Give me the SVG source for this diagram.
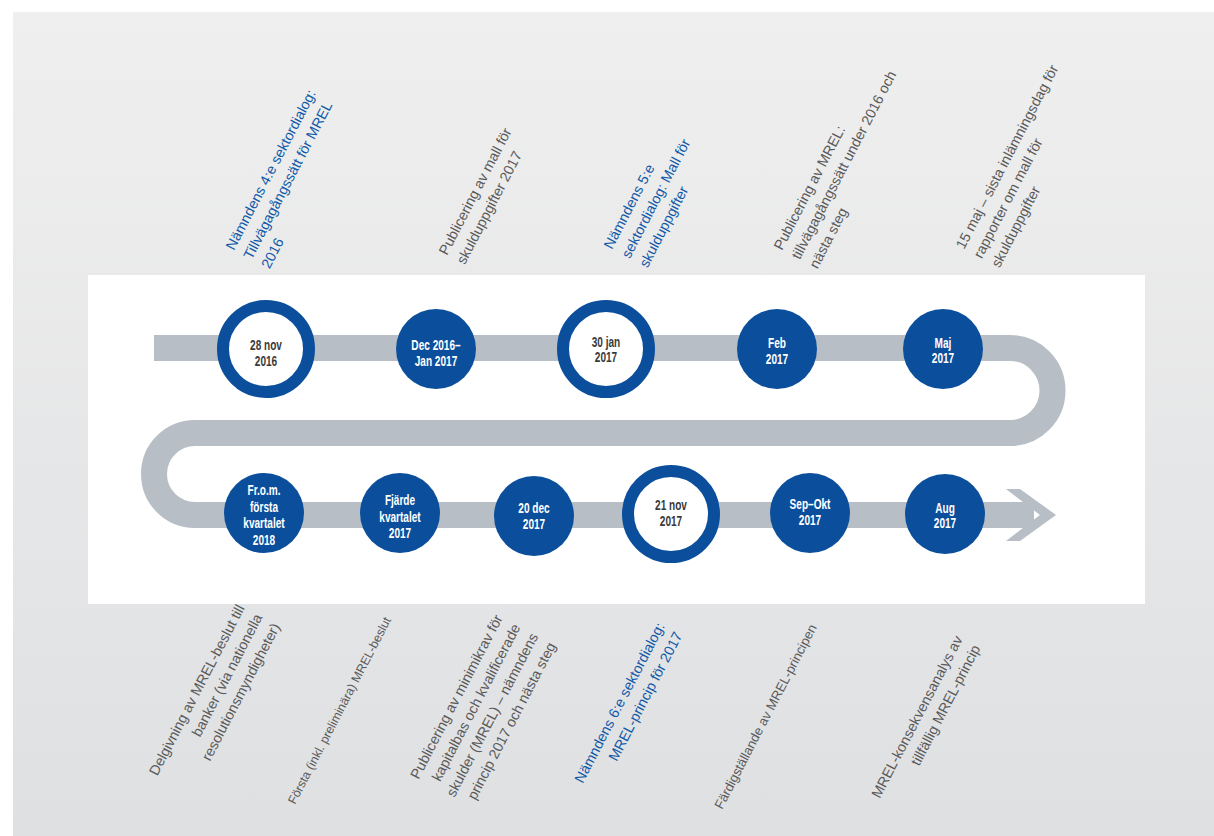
<svg xmlns="http://www.w3.org/2000/svg" width="1214" height="836" viewBox="0 0 1214 836">
<defs>
<linearGradient id="bg" x1="0" y1="0" x2="0" y2="1">
<stop offset="0" stop-color="#efefef"/>
<stop offset="1" stop-color="#dfe0e2"/>
</linearGradient>
<style>
.band{fill:none;stroke:#b7bec5;stroke-width:26}
.ring{fill:#fff;stroke:#0b4f9c;stroke-width:12}
.dot{fill:#0b4f9c}
.dt{font-family:"Liberation Sans Narrow","Liberation Sans",Arial,sans-serif;font-weight:bold;font-size:14px;text-anchor:middle}
.w{fill:#fff}
.k{fill:#3a3a3a}
.lbl{font-family:"Liberation Sans",Arial,sans-serif;font-size:14.3px}
.g{fill:#5a5a5a}
.b{fill:#1059a8}
.e{text-anchor:end}
</style>
</defs>
<rect x="13" y="12" width="1201" height="824" fill="url(#bg)"/>
<rect x="88" y="275" width="1057" height="329" fill="#fff"/>

<g id="connectors">
<path class="band" d="M154,348 H1010 A42.5,42.5 0 0 1 1010,433 H195 A41,41 0 0 0 195,515 H1034"/>
<polygon points="1006,489 1020,489 1056,515 1020,541 1006,541 1040,515" fill="#b7bec5"/>
</g>

<g id="n1"><circle class="ring" cx="266" cy="349" r="43"/>
<g transform="translate(266,0) scale(0.72,1)"><text class="dt k"><tspan x="0" y="350">28 nov</tspan><tspan x="0" y="366">2016</tspan></text></g></g>
<g id="n2"><circle class="dot" cx="436" cy="349" r="40"/>
<g transform="translate(436,0) scale(0.72,1)"><text class="dt w"><tspan x="0" y="350">Dec 2016–</tspan><tspan x="0" y="366">Jan 2017</tspan></text></g></g>
<g id="n3"><circle class="ring" cx="606" cy="349" r="43"/>
<g transform="translate(606,0) scale(0.72,1)"><text class="dt k"><tspan x="0" y="347">30 jan</tspan><tspan x="0" y="362">2017</tspan></text></g></g>
<g id="n4"><circle class="dot" cx="777" cy="349" r="40"/>
<g transform="translate(777,0) scale(0.72,1)"><text class="dt w"><tspan x="0" y="348">Feb</tspan><tspan x="0" y="364">2017</tspan></text></g></g>
<g id="n5"><circle class="dot" cx="943" cy="349" r="40"/>
<g transform="translate(943,0) scale(0.72,1)"><text class="dt w"><tspan x="0" y="348">Maj</tspan><tspan x="0" y="363">2017</tspan></text></g></g>

<g id="n6"><circle class="dot" cx="945" cy="514" r="40"/>
<g transform="translate(945,0) scale(0.72,1)"><text class="dt w"><tspan x="0" y="513">Aug</tspan><tspan x="0" y="528">2017</tspan></text></g></g>
<g id="n7"><circle class="dot" cx="810" cy="513" r="40"/>
<g transform="translate(810,0) scale(0.72,1)"><text class="dt w"><tspan x="0" y="509">Sep–Okt</tspan><tspan x="0" y="525">2017</tspan></text></g></g>
<g id="n8"><circle class="ring" cx="671" cy="514" r="43"/>
<g transform="translate(671,0) scale(0.72,1)"><text class="dt k"><tspan x="0" y="510">21 nov</tspan><tspan x="0" y="526">2017</tspan></text></g></g>
<g id="n9"><circle class="dot" cx="534" cy="516" r="40"/>
<g transform="translate(534,0) scale(0.72,1)"><text class="dt w"><tspan x="0" y="513">20 dec</tspan><tspan x="0" y="529">2017</tspan></text></g></g>
<g id="n10"><circle class="dot" cx="400" cy="513" r="40"/>
<g transform="translate(400,0) scale(0.72,1)"><text class="dt w"><tspan x="0" y="505">Fjärde</tspan><tspan x="0" y="521.7">kvartalet</tspan><tspan x="0" y="538.3">2017</tspan></text></g></g>
<g id="n11"><circle class="dot" cx="264" cy="513" r="40"/>
<g transform="translate(264,0) scale(0.72,1)"><text class="dt w"><tspan x="0" y="495">Fr.o.m.</tspan><tspan x="0" y="511.7">första</tspan><tspan x="0" y="528.3">kvartalet</tspan><tspan x="0" y="545">2018</tspan></text></g></g>

<g id="top-labels">
<text class="lbl b" transform="translate(234,251) rotate(-62.5)"><tspan x="0" y="0">Nämndens 4:e sektordialog:</tspan><tspan x="0" dy="20">Tillvägagångssätt för MREL</tspan><tspan x="0" dy="20">2016</tspan></text>
<text class="lbl g" transform="translate(447,256) rotate(-62.5)"><tspan x="0" y="0">Publicering av mall för</tspan><tspan x="0" dy="20">skulduppgifter 2017</tspan></text>
<text class="lbl b" transform="translate(612,250) rotate(-62.5)"><tspan x="0" y="0">Nämndens 5:e</tspan><tspan x="0" dy="20">sektordialog: Mall för</tspan><tspan x="0" dy="20">skulduppgifter</tspan></text>
<text class="lbl g" transform="translate(782,251) rotate(-62.5)"><tspan x="0" y="0">Publicering av MREL:</tspan><tspan x="0" dy="20">tillvägagångssätt under 2016 och</tspan><tspan x="0" dy="20">nästa steg</tspan></text>
<text class="lbl g" transform="translate(964,250) rotate(-62.5)"><tspan x="0" y="0">15 maj – sista inlämningsdag för</tspan><tspan x="0" dy="20">rapporter om mall för</tspan><tspan x="0" dy="20">skulduppgifter</tspan></text>
</g>

<g id="bottom-labels">
<text class="lbl g e" transform="translate(245,608) rotate(-62.5)"><tspan x="0" y="0">Delgivning av MREL-beslut till</tspan><tspan x="0" dy="20">banker (via nationella</tspan><tspan x="0" dy="20">resolutionsmyndigheter)</tspan></text>
<text class="lbl g" style="font-size:12.4px" transform="translate(295,805) rotate(-62.5)">Första (inkl. preliminära) MREL-beslut</text>
<text class="lbl g e" transform="translate(503,618) rotate(-62.5)"><tspan x="0" y="0">Publicering av minimikrav för</tspan><tspan x="0" dy="20">kapitalbas och kvalificerade</tspan><tspan x="0" dy="20">skulder (MREL) – nämndens</tspan><tspan x="0" dy="20">princip 2017 och nästa steg</tspan></text>
<text class="lbl b e" transform="translate(665,626) rotate(-62.5)"><tspan x="0" y="0">Nämndens 6:e sektordialog:</tspan><tspan x="0" dy="20">MREL-princip för 2017</tspan></text>
<text class="lbl g" style="font-size:13.2px" transform="translate(722,810) rotate(-62.5)">Färdigställande av MREL-principen</text>
<text class="lbl g e" transform="translate(963,639) rotate(-62.5)"><tspan x="0" y="0">MREL-konsekvensanalys av</tspan><tspan x="0" dy="20">tillfällig MREL-princip</tspan></text>
</g>
</svg>
